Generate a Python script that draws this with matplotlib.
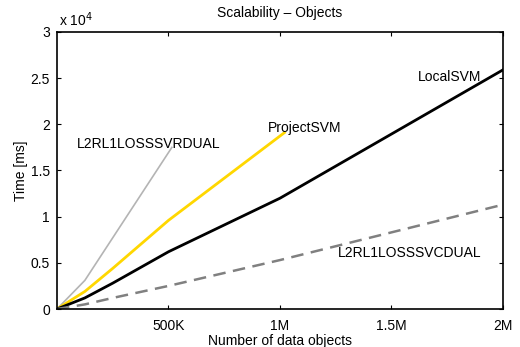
import matplotlib
matplotlib.use("Agg")
import matplotlib.pyplot as plt
from matplotlib.ticker import FixedLocator, FixedFormatter

plt.rcParams['font.family'] = ['Liberation Sans', 'DejaVu Sans']
plt.rcParams['font.size'] = 10

# data (time in units of 1e4 ms, x in data objects)
local_x = [0, 125000, 250000, 500000, 1000000, 2000000]
local_y = [0, 0.12, 0.28, 0.62, 1.20, 2.59]

project_x = [0, 125000, 250000, 500000, 1020000]
project_y = [0, 0.19, 0.44, 0.96, 1.91]

svr_x = [0, 125000, 515000]
svr_y = [0, 0.31, 1.75]

svc_x = [0, 125000, 250000, 500000, 1000000, 2000000]
svc_y = [0, 0.05, 0.12, 0.25, 0.53, 1.13]

xticks = [500000, 1000000, 1500000, 2000000]
xticklabels = ['500K', '1M', '1.5M', '2M']
yticks = [0, 0.5, 1, 1.5, 2, 2.5, 3]
yticklabels = ['0', '0.5', '1', '1.5', '2', '2.5', '3']

fig = plt.figure(figsize=(5.2, 3.47), dpi=100)
ax = fig.add_axes([0.1096, 0.1095, 0.8577, 0.7983])

ax.plot(svr_x, svr_y, color='#b4b4b4', lw=1.2)
ax.plot(project_x, project_y, color='#ffd700', lw=2)
ax.plot(local_x, local_y, color='black', lw=2)
ax.plot(svc_x, svc_y, color='#808080', lw=1.8, ls=(0, (5, 3)))

ax.set_xlim(0, 2000000)
ax.set_ylim(0, 3)
ax.xaxis.set_major_locator(FixedLocator(xticks))
ax.xaxis.set_major_formatter(FixedFormatter(xticklabels))
ax.yaxis.set_major_locator(FixedLocator(yticks))
ax.yaxis.set_major_formatter(FixedFormatter(yticklabels))
ax.tick_params(direction='in', top=True, right=True, length=3, width=0.8, labelsize=10)
ax.tick_params(axis='x', pad=7)
ax.tick_params(axis='y', pad=5)
for s in ax.spines.values():
    s.set_linewidth(1.2)

ax.text(0.005, 1.012, r'x 10$^4$', transform=ax.transAxes, fontsize=10, va='bottom')

ax.text(1760000, 2.51, 'LocalSVM', fontsize=10, ha='center', va='center')
ax.text(1110000, 1.96, 'ProjectSVM', fontsize=10, ha='center', va='center')
ax.text(410000, 1.79, 'L2RL1LOSSSVRDUAL', fontsize=10, ha='center', va='center')
ax.text(1580000, 0.61, 'L2RL1LOSSSVCDUAL', fontsize=10, ha='center', va='center')

ax.set_title('Scalability \u2013 Objects', fontsize=10, pad=11)
ax.set_xlabel('Number of data objects', fontsize=10, labelpad=1)
ax.set_ylabel('Time [ms]', fontsize=10, labelpad=2)

fig.savefig('out.png', dpi=100)
